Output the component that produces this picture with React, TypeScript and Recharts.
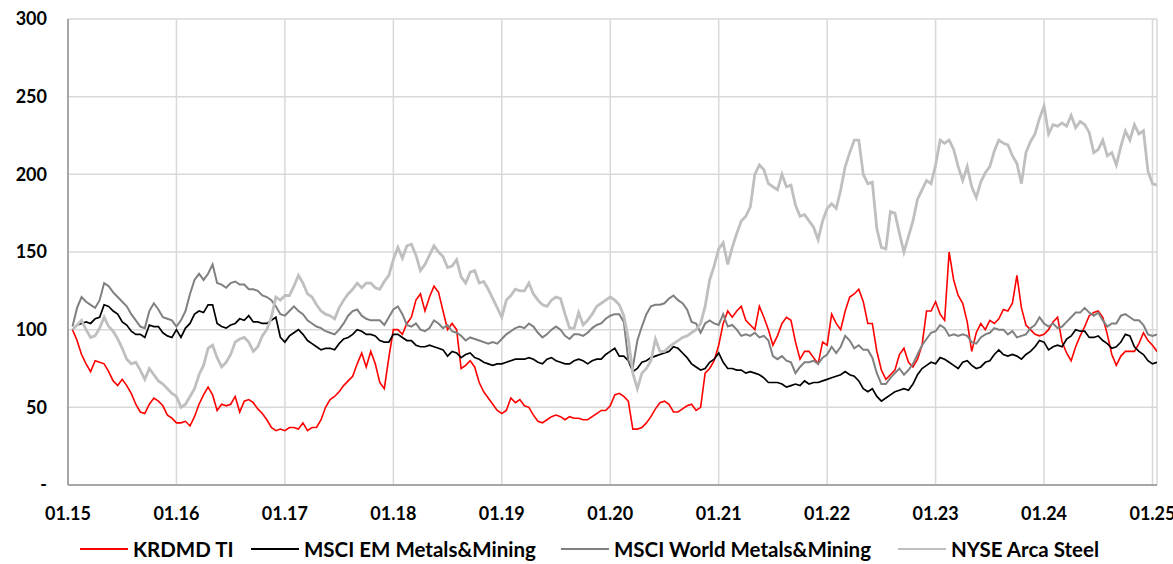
import { LineChart, Line, XAxis, YAxis, CartesianGrid } from 'recharts';

// half-month steps, first point mid-January 2015
const START_YEAR = 2015;
const STEP = 1 / 24;

const krdmd = [
  100, 93, 84, 78, 73, 80, 79, 78, 73, 67, 64, 68, 64, 59, 52, 47, 46, 52, 56, 54, 51, 45, 43, 40,
  40, 41, 38, 44, 52, 58, 63, 58, 48, 52, 51, 52, 57, 47, 54, 55, 53, 49, 46, 42, 37, 35, 36, 35,
  37, 37, 36, 40, 35, 37, 37, 42, 50, 55, 57, 60, 64, 67, 70, 78, 85, 76, 86, 78, 66, 62, 82, 100,
  100, 97, 104, 108, 119, 123, 112, 121, 128, 124, 112, 100, 104, 100, 75, 77, 80, 76, 66, 60, 56, 52, 48, 46,
  48, 56, 53, 55, 51, 50, 45, 41, 40, 42, 44, 45, 44, 42, 44, 43, 43, 42, 42, 44, 46, 48, 48, 51,
  58, 59, 57, 54, 36, 36, 37, 40, 44, 49, 53, 54, 52, 47, 47, 49, 51, 52, 48, 50, 72, 75, 80, 90,
  104, 112, 108, 112, 115, 106, 103, 100, 115, 108, 100, 90, 96, 104, 108, 106, 92, 81, 86, 86, 82, 78, 92, 90,
  110, 104, 100, 112, 121, 123, 126, 118, 104, 104, 86, 74, 68, 71, 74, 84, 88, 79, 76, 81, 90, 112, 112, 118,
  110, 106, 150, 132, 122, 117, 105, 86, 98, 104, 100, 106, 104, 107, 113, 112, 117, 135, 114, 103, 100, 97, 96, 97,
  100, 105, 108, 92, 85, 80, 89, 96, 102, 109, 111, 112, 108, 97, 84, 77, 83, 86, 86, 86, 91, 98, 93, 90,
  86,
];

const msciEm = [
  100, 103, 104, 105, 104, 107, 108, 116, 115, 112, 110, 105, 103, 99, 97, 97, 95, 103, 102, 102, 98, 96, 95, 100,
  95, 101, 104, 110, 112, 111, 116, 116, 104, 102, 101, 103, 104, 107, 106, 109, 105, 105, 104, 104, 106, 108, 95, 92,
  96, 98, 100, 97, 93, 91, 89, 87, 88, 88, 87, 91, 94, 95, 97, 100, 99, 97, 97, 96, 93, 92, 92, 97,
  97, 95, 93, 93, 90, 89, 89, 90, 89, 88, 87, 83, 86, 85, 82, 84, 85, 82, 81, 79, 78, 77, 78, 78,
  79, 80, 81, 81, 81, 82, 81, 79, 78, 81, 82, 80, 79, 78, 78, 80, 81, 80, 78, 80, 81, 81, 84, 86,
  88, 83, 83, 80, 73, 75, 79, 80, 82, 83, 84, 85, 86, 89, 88, 85, 82, 78, 76, 74, 75, 79, 81, 85,
  79, 75, 75, 74, 74, 72, 73, 72, 71, 69, 66, 66, 66, 65, 63, 64, 65, 64, 67, 65, 66, 66, 67, 68,
  69, 70, 71, 73, 71, 70, 67, 62, 60, 62, 57, 54, 56, 58, 60, 61, 62, 61, 65, 71, 75, 77, 79, 78,
  82, 81, 79, 77, 75, 79, 80, 77, 75, 76, 79, 80, 84, 87, 84, 83, 84, 83, 81, 84, 86, 89, 93, 92,
  87, 89, 90, 89, 94, 96, 100, 99, 99, 95, 95, 96, 93, 91, 88, 89, 92, 97, 96, 89, 86, 84, 80, 78,
  79,
];

const msciWorld = [
  102, 114, 121, 118, 116, 114, 119, 130, 128, 124, 121, 118, 115, 110, 106, 102, 101, 112, 117, 113, 108, 107, 106, 102,
  106, 112, 123, 132, 136, 132, 136, 142, 130, 129, 127, 130, 131, 129, 129, 126, 126, 125, 122, 121, 119, 115, 110, 109,
  112, 115, 112, 110, 106, 104, 102, 101, 99, 98, 97, 100, 104, 109, 112, 113, 109, 107, 106, 106, 106, 103, 108, 113,
  115, 110, 103, 102, 104, 100, 99, 101, 106, 104, 101, 103, 99, 98, 96, 93, 95, 94, 93, 92, 91, 92, 91, 94,
  97, 99, 101, 102, 101, 104, 102, 98, 95, 97, 100, 102, 100, 96, 94, 97, 97, 96, 98, 101, 103, 104, 107, 109,
  110, 110, 105, 80, 76, 93, 102, 110, 115, 116, 116, 117, 120, 122, 119, 117, 113, 105, 104, 98, 104, 106, 104, 103,
  110, 102, 103, 100, 96, 97, 96, 98, 95, 96, 93, 83, 81, 83, 80, 79, 72, 76, 79, 79, 80, 78, 82, 84,
  89, 85, 89, 96, 93, 88, 90, 87, 87, 82, 72, 65, 65, 69, 72, 75, 71, 74, 78, 84, 90, 94, 98, 99,
  103, 101, 96, 97, 96, 97, 96, 92, 91, 95, 97, 98, 101, 100, 100, 97, 99, 95, 96, 97, 101, 103, 108, 104,
  102, 104, 101, 102, 105, 108, 111, 111, 114, 111, 109, 111, 106, 102, 104, 104, 109, 110, 108, 106, 106, 103, 97, 96,
  97,
];

const nyseSteel = [
  100, 103, 106, 100, 95, 96, 101, 108, 102, 99, 94, 88, 81, 78, 79, 74, 68, 75, 71, 67, 65, 62, 59, 57,
  50, 52, 57, 62, 71, 77, 88, 90, 82, 76, 79, 84, 92, 94, 95, 92, 86, 89, 96, 100, 108, 121, 119, 122,
  122, 128, 135, 130, 123, 121, 116, 112, 110, 109, 107, 114, 119, 123, 126, 130, 127, 130, 130, 127, 126, 131, 135, 145,
  153, 146, 154, 155, 148, 138, 142, 148, 154, 150, 147, 140, 141, 145, 134, 130, 137, 138, 130, 131, 126, 120, 114, 108,
  119, 122, 126, 125, 125, 130, 123, 119, 116, 115, 119, 121, 120, 110, 101, 101, 111, 103, 106, 110, 115, 117, 119, 121,
  119, 116, 109, 94, 72, 62, 72, 75, 80, 94, 86, 86, 89, 91, 93, 95, 96, 98, 100, 104, 115, 132, 141, 152,
  156, 142, 153, 162, 170, 173, 179, 200, 206, 203, 194, 192, 190, 200, 192, 193, 180, 173, 174, 170, 166, 158, 170, 178,
  181, 178, 190, 205, 214, 222, 222, 200, 194, 195, 165, 153, 152, 176, 175, 162, 150, 160, 170, 184, 190, 196, 194, 206,
  222, 220, 222, 216, 205, 196, 205, 192, 185, 195, 201, 205, 215, 222, 220, 219, 212, 207, 194, 214, 221, 226, 236, 244,
  226, 232, 231, 233, 231, 238, 230, 234, 232, 227, 214, 216, 222, 212, 214, 206, 218, 228, 222, 232, 226, 228, 202, 194,
  193,
];

const xTicks = [2015, 2016, 2017, 2018, 2019, 2020, 2021, 2022, 2023, 2024, 2025];
const yTicks = [0, 50, 100, 150, 200, 250, 300];

const SERIES = [
  { key: 'krdmd', name: 'KRDMD TI', color: '#FF0000', width: 1.6 },
  { key: 'msciEm', name: 'MSCI EM Metals&Mining', color: '#000000', width: 1.7 },
  { key: 'msciWorld', name: 'MSCI World Metals&Mining', color: '#808080', width: 2 },
  { key: 'nyseSteel', name: 'NYSE Arca Steel', color: '#BFBFBF', width: 2.8 },
];

// left edge of each legend swatch
const LEGEND_X = [80, 251, 561, 898];

const data = krdmd.map((v, i) => ({
  t: START_YEAR + (i + 1) * STEP,
  krdmd: v,
  msciEm: msciEm[i],
  msciWorld: msciWorld[i],
  nyseSteel: nyseSteel[i],
}));

const FONT = 'Lato, "Open Sans", sans-serif';
const tickStyle = { fontSize: 18, fontWeight: 700, fill: '#000', fontFamily: FONT };
const BORDER = '#A6A6A6';

export default function App() {
  return (
    <div style={{ position: 'absolute', left: 0, top: 0, width: 1173, height: 564, background: '#fff' }}>
      <LineChart
        width={1173}
        height={564}
        data={data}
        margin={{ top: 19, right: 16, left: 0, bottom: 0 }}
      >
        <CartesianGrid stroke="#D9D9D9" strokeWidth={1.5} />
        <XAxis
          dataKey="t"
          type="number"
          domain={[START_YEAR, 2025 + STEP]}
          ticks={xTicks}
          tickFormatter={(y: number) => '01.' + String(y).slice(2)}
          height={79}
          tickSize={0}
          tickMargin={22}
          tick={tickStyle}
          axisLine={{ stroke: BORDER, strokeWidth: 2 }}
          interval={0}
          allowDataOverflow
        />
        <XAxis
          xAxisId="top"
          orientation="top"
          type="number"
          domain={[START_YEAR, 2025 + STEP]}
          height={0}
          tick={false}
          tickLine={false}
          axisLine={{ stroke: BORDER, strokeWidth: 2 }}
        />
        <YAxis
          domain={[0, 300]}
          ticks={yTicks}
          width={68}
          tickSize={0}
          tickMargin={21}
          tick={tickStyle}
          tickFormatter={(v: number) => (v === 0 ? '-' : String(v))}
          axisLine={{ stroke: BORDER, strokeWidth: 2 }}
          interval={0}
        />
        <YAxis
          yAxisId="right"
          orientation="right"
          domain={[0, 300]}
          width={0}
          tick={false}
          tickLine={false}
          axisLine={{ stroke: BORDER, strokeWidth: 2 }}
        />
        {SERIES.map((s) => (
          <Line
            key={s.key}
            dataKey={s.key}
            name={s.name}
            stroke={s.color}
            strokeWidth={s.width}
            dot={false}
            type="linear"
            isAnimationActive={false}
          />
        ))}
      </LineChart>
      <div style={{ position: 'absolute', left: 0, top: 537, width: 1173, height: 24 }}>
        {SERIES.map((s, i) => (
          <div
            key={s.key}
            style={{
              position: 'absolute',
              left: LEGEND_X[i],
              top: 0,
              height: 24,
              display: 'flex',
              alignItems: 'center',
              whiteSpace: 'nowrap',
            }}
          >
            <span style={{ display: 'inline-block', width: 48, height: 2, background: s.color, marginRight: 5 }} />
            <span style={{ fontFamily: FONT, fontWeight: 700, fontSize: 20.5, lineHeight: '24px', color: '#000' }}>
              {s.name}
            </span>
          </div>
        ))}
      </div>
    </div>
  );
}
